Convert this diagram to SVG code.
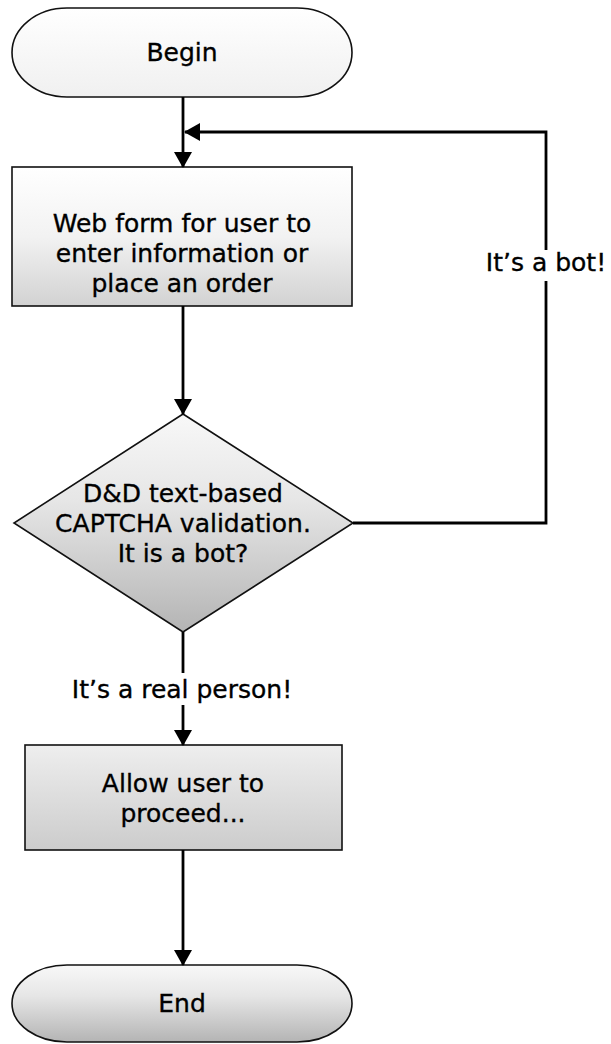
<svg xmlns="http://www.w3.org/2000/svg" width="611" height="1044" viewBox="0 0 611 1044">
<style>
.shape{stroke:#111;stroke-width:1.6}
.lbl{font-family:"DejaVu Sans","Open Sans",sans-serif;font-size:25px;fill:#000;stroke:#000;stroke-width:0.35;text-anchor:middle}
.conn{stroke:#000;stroke-width:2.8;fill:none}
</style>
<defs>
<linearGradient id="gLight" x1="0" y1="0" x2="0" y2="1"><stop offset="0" stop-color="#ffffff"/><stop offset="1" stop-color="#f0f0f0"/></linearGradient>
<linearGradient id="gMid" x1="0" y1="0" x2="0" y2="1"><stop offset="0" stop-color="#ffffff"/><stop offset="0.5" stop-color="#f2f2f2"/><stop offset="1" stop-color="#d2d2d2"/></linearGradient>
<linearGradient id="gDark" x1="0" y1="0" x2="0" y2="1"><stop offset="0" stop-color="#f8f8f8"/><stop offset="0.4" stop-color="#e6e6e6"/><stop offset="1" stop-color="#b4b4b4"/></linearGradient>
<linearGradient id="gAllow" x1="0" y1="0" x2="0" y2="1"><stop offset="0" stop-color="#eeeeee"/><stop offset="1" stop-color="#cccccc"/></linearGradient>
<marker id="arr" viewBox="0 0 16 18" refX="15" refY="9" markerWidth="16" markerHeight="18" markerUnits="userSpaceOnUse" orient="auto"><path d="M0,0 L16,9 L0,18 Z" fill="#000"/></marker>
</defs>
<g id="begin">
<rect class="shape" x="12" y="8" width="340" height="89" rx="55" ry="44.5" fill="url(#gLight)"/>
<text class="lbl" x="182" y="61">Begin</text>
</g>
<g id="webform">
<rect class="shape" x="12" y="167" width="340" height="139" fill="url(#gMid)"/>
<text class="lbl" x="182" y="232">Web form for user to</text>
<text class="lbl" x="182" y="262">enter information or</text>
<text class="lbl" x="182" y="292">place an order</text>
</g>
<g id="decision">
<polygon class="shape" points="183,414 353,523 183,632 14,523" fill="url(#gDark)"/>
<text class="lbl" x="183" y="502">D&amp;D text-based</text>
<text class="lbl" x="183" y="532">CAPTCHA validation.</text>
<text class="lbl" x="183" y="562">It is a bot?</text>
</g>
<g id="allow">
<rect class="shape" x="25" y="745" width="317" height="105" fill="url(#gAllow)"/>
<text class="lbl" x="183" y="792">Allow user to</text>
<text class="lbl" x="183" y="822">proceed...</text>
</g>
<g id="end">
<rect class="shape" x="12" y="965" width="340" height="77" rx="55" ry="38.5" fill="url(#gDark)"/>
<text class="lbl" x="182" y="1012">End</text>
</g>
<g id="connectors">
<line class="conn" x1="183" y1="97" x2="183" y2="167" marker-end="url(#arr)"/>
<polyline class="conn" points="353,523 546,523 546,132 185,132" marker-end="url(#arr)"/>
<line class="conn" x1="183" y1="306" x2="183" y2="414" marker-end="url(#arr)"/>
<line class="conn" x1="183" y1="632" x2="183" y2="673"/>
<line class="conn" x1="183" y1="705" x2="183" y2="745" marker-end="url(#arr)"/>
<line class="conn" x1="183" y1="850" x2="183" y2="965" marker-end="url(#arr)"/>
<rect x="485" y="250" width="122" height="31" fill="#fff"/>
<text class="lbl" x="546" y="271">It’s a bot!</text>
<text class="lbl" x="182" y="698">It’s a real person!</text>
</g>
</svg>
